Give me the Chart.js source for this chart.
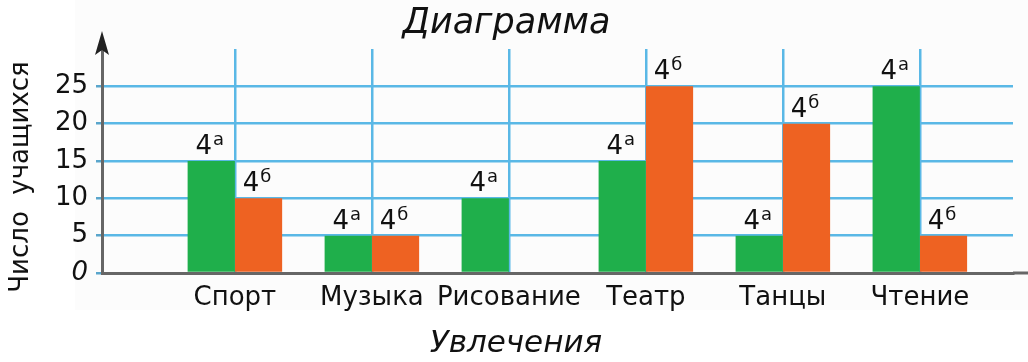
<!DOCTYPE html>
<html lang="ru">
<head>
    <meta charset="UTF-8">
    <title>Диаграмма</title>
    <script src="https://cdn.jsdelivr.net/npm/chart.js"></script>
    <style>
        body { margin: 0; background: #fff; }
        #myChart { display: block; }
    </style>
</head>
<body>
    <canvas id="myChart" width="1028" height="362"></canvas>

    <script>
        // data
        const categories = ['Спорт', 'Музыка', 'Рисование', 'Театр', 'Танцы', 'Чтение'];
        const class4a = [15, 5, 10, 15, 5, 25];
        const class4b = [10, 5, null, 25, 20, 5];
        const seriesNames = ['4а', '4б'];
        const yTicks = [0, 5, 10, 15, 20, 25];

        const FONT = "'DejaVu Sans', sans-serif";
        const gridBlue = '#5ab8e6';
        const axisGray = '#666';
        const textColor = '#111';

        // arrow on the y axis, titles and the "4а"/"4б" marks over the bars
        const decor = {
            id: 'decor',
            beforeDraw(chart) {
                const c = chart.ctx;
                c.save();
                c.fillStyle = '#fcfcfc';
                c.fillRect(75, 0, chart.width - 75, 310);
                c.restore();
            },
            afterDraw(chart) {
                const c = chart.ctx;
                const a = chart.chartArea;
                c.save();

                // axis arrow
                c.strokeStyle = axisGray;
                c.lineWidth = 3;
                c.beginPath();
                c.moveTo(a.left, a.top + 2);
                c.lineTo(a.left, a.top - 8);
                c.moveTo(a.right, a.bottom);
                c.lineTo(chart.width, a.bottom);
                c.stroke();
                c.fillStyle = '#222';
                c.beginPath();
                c.moveTo(a.left, a.top - 18);
                c.lineTo(a.left + 7, a.top + 6);
                c.lineTo(a.left, a.top + 1);
                c.lineTo(a.left - 7, a.top + 6);
                c.closePath();
                c.fill();

                // axis titles
                c.fillStyle = textColor;
                c.textAlign = 'center';
                c.textBaseline = 'middle';
                c.save();
                c.translate(21, 177);
                c.rotate(-Math.PI / 2);
                c.font = '26px ' + FONT;
                c.fillText('Число  учащихся', 0, 0);
                c.restore();

                c.font = 'italic 31px ' + FONT;
                c.textBaseline = 'alphabetic';
                c.fillText('Увлечения', 516, 352);

                // bar marks
                chart.data.datasets.forEach((ds, d) => {
                    const meta = chart.getDatasetMeta(d);
                    const main = seriesNames[d].slice(0, 1);
                    const sup = seriesNames[d].slice(1);
                    meta.data.forEach((bar, i) => {
                        if (ds.data[i].y == null) return;
                        c.font = '26px ' + FONT;
                        const w1 = c.measureText(main).width;
                        c.font = '18px ' + FONT;
                        const w2 = c.measureText(sup).width;
                        const x0 = bar.x - 2 - (w1 + w2) / 2;
                        const y0 = bar.y - 7;
                        c.textAlign = 'left';
                        c.font = '26px ' + FONT;
                        c.fillText(main, x0, y0);
                        c.font = '18px ' + FONT;
                        c.fillText(sup, x0 + w1 + 1, y0 - 9);
                    });
                });
                c.restore();
            }
        };

        const ctx = document.getElementById('myChart').getContext('2d');
        const myChart = new Chart(ctx, {
            type: 'bar',
            data: {
                datasets: [{
                    label: seriesNames[0],
                    data: class4a.map((v, i) => ({ x: i + 1, y: v })),
                    backgroundColor: '#1faf4b',
                    categoryPercentage: 0.69,
                    barPercentage: 1.0,
                }, {
                    label: seriesNames[1],
                    data: class4b.map((v, i) => ({ x: i + 1, y: v })),
                    backgroundColor: '#ee6222',
                    categoryPercentage: 0.69,
                    barPercentage: 1.0,
                }],
            },
            options: {
                responsive: false,
                animation: false,
                layout: { padding: { left: 0, right: 15, top: 0, bottom: 0 } },
                plugins: {
                    legend: { display: false },
                    tooltip: { enabled: false },
                    title: {
                        display: true,
                        text: 'Диаграмма',
                        color: textColor,
                        font: { family: FONT, size: 35, style: 'italic', weight: 'normal' },
                        padding: { top: 3, bottom: 4 },
                    },
                },
                scales: {
                    x: {
                        type: 'linear',
                        min: 0.03,
                        max: 6.68,
                        offset: false,
                        afterBuildTicks: s => { s.ticks = categories.map((c, i) => ({ value: i + 1 })); },
                        afterFit: s => { s.height = 89; },
                        ticks: {
                            autoSkip: false,
                            maxRotation: 0,
                            padding: 10,
                            color: textColor,
                            font: { family: FONT, size: 26 },
                            callback: v => categories[v - 1],
                        },
                        grid: { offset: false, color: gridBlue, lineWidth: 2.5, drawTicks: false },
                        border: { color: axisGray, width: 3 },
                    },
                    y: {
                        min: 0,
                        max: 30,
                        afterBuildTicks: s => { s.ticks = yTicks.map(v => ({ value: v })); },
                        afterFit: s => { s.width = 102; },
                        ticks: {
                            padding: 8,
                            color: textColor,
                            font: c => ({ family: FONT, size: 26, style: c.tick && c.tick.value === 0 ? 'italic' : 'normal' }),
                        },
                        grid: {
                            color: c => (c.tick && c.tick.value === 0 ? 'rgba(0,0,0,0)' : gridBlue),
                            tickColor: '#5aa6cc',
                            lineWidth: 2.5,
                            tickLength: 6,
                        },
                        border: { color: axisGray, width: 3 },
                    },
                },
            },
            plugins: [decor],
        });
    </script>
</body>
</html>
